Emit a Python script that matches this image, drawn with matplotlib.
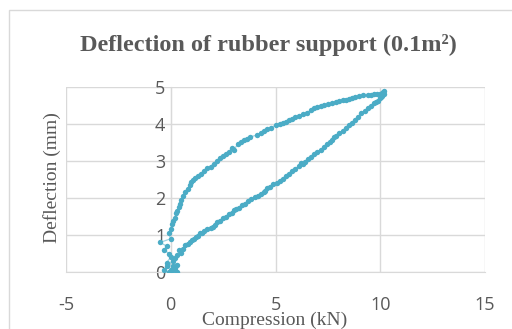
import matplotlib
matplotlib.use('Agg')
import matplotlib.pyplot as plt
from matplotlib.patches import Rectangle

plt.rcParams['axes.unicode_minus'] = False

# loading branch (lower curve)
load_x = [0.0, 0.2, -0.2, 0.3, 0.1, -0.3, 0.2, 0.3, 0.5, 0.4, 0.6, 0.7, 0.8, 0.9, 1.0,
          1.1, 1.2, 1.3, 1.4, 1.5, 1.6, 1.75, 1.9, 2.0, 2.1, 2.2, 2.35, 2.5, 2.65, 2.8,
          2.9, 3.0, 3.1, 3.25, 3.4, 3.55, 3.7, 3.85, 4.0, 4.15, 4.3, 4.45, 4.5, 4.6,
          4.75, 4.9, 5.05, 5.2, 5.35, 5.5, 5.65, 5.8, 5.95, 6.1, 6.2, 6.3, 6.4, 6.55,
          6.7, 6.85, 7.0, 7.15, 7.3, 7.45, 7.6, 7.7, 7.8, 7.9, 8.05, 8.2, 8.35, 8.5,
          8.65, 8.8, 8.95, 9.1, 9.25, 9.4, 9.55, 9.7, 9.8, 9.9, 10.0, 10.05, 10.1, 10.2]
load_y = [0.0, 0.05, 0.15, 0.2, 0.3, 0.05, 0.38, 0.45, 0.52, 0.6, 0.62, 0.72, 0.75, 0.8, 0.86,
          0.9, 0.95, 0.98, 1.05, 1.06, 1.1, 1.15, 1.2, 1.22, 1.28, 1.35, 1.38, 1.45, 1.5, 1.58,
          1.6, 1.68, 1.7, 1.74, 1.8, 1.85, 1.92, 1.96, 2.02, 2.06, 2.12, 2.16, 2.2, 2.26,
          2.3, 2.37, 2.4, 2.47, 2.52, 2.6, 2.65, 2.72, 2.78, 2.86, 2.95, 2.93, 2.98, 3.05,
          3.12, 3.18, 3.25, 3.3, 3.37, 3.45, 3.52, 3.58, 3.65, 3.68, 3.75, 3.82, 3.9, 3.97,
          4.04, 4.12, 4.2, 4.3, 4.34, 4.42, 4.48, 4.56, 4.6, 4.62, 4.7, 4.72, 4.75, 4.8]

# unloading branch (upper curve)
unload_x = [10.2, 10.15, 10.1, 10.0, 9.85, 9.7, 9.55, 9.4, 9.2, 9.0, 8.8, 8.65, 8.5, 8.35,
            8.2, 8.05, 7.9, 7.7, 7.5, 7.3, 7.15, 7.0, 6.85, 6.7, 6.5, 6.3, 6.1, 5.95, 5.8,
            5.65, 5.5, 5.35, 5.2, 5.0, 4.8, 4.6, 4.45, 4.3, 4.1, 3.8, 3.65, 3.5, 3.35, 3.2,
            3.0, 2.9, 2.8, 2.65, 2.5, 2.35, 2.2, 2.05, 1.9, 1.75, 1.6, 1.45, 1.3, 1.15, 1.05,
            0.95, 0.9, 0.8, 0.7, 0.6, 0.5, 0.45, 0.4, 0.3, 0.25, 0.2, 0.1, 0.05, 0.0, -0.1,
            0.0, -0.5, -0.2, -0.3, -0.1, 0.0, -0.2, 0.1, 0.0, 0.3, -0.1, 0.2]
unload_y = [4.9, 4.86, 4.85, 4.82, 4.8, 4.8, 4.79, 4.78, 4.78, 4.75, 4.72, 4.7, 4.68, 4.66,
            4.65, 4.62, 4.6, 4.57, 4.53, 4.5, 4.48, 4.45, 4.42, 4.38, 4.3, 4.27, 4.22, 4.18, 4.14,
            4.1, 4.06, 4.03, 4.0, 3.97, 3.9, 3.86, 3.8, 3.76, 3.7, 3.65, 3.6, 3.56, 3.5, 3.45,
            3.3, 3.35, 3.25, 3.2, 3.14, 3.08, 3.0, 2.93, 2.85, 2.8, 2.72, 2.66, 2.6, 2.55, 2.5,
            2.42, 2.35, 2.25, 2.15, 2.05, 1.95, 1.85, 1.75, 1.65, 1.6, 1.45, 1.38, 1.3, 1.15, 1.05,
            0.9, 0.8, 0.7, 0.6, 0.5, 0.4, 0.25, 0.15, 0.05, 0.0, 0.0, 0.1]

x_ticks = [-5, 0, 5, 10, 15]
y_ticks = [0, 1, 2, 3, 4, 5]

fig = plt.figure(figsize=(5.12, 3.29), dpi=100)
fig.patch.set_facecolor('white')
ax = fig.add_axes([66 / 512, 1 - 272 / 329, (485 - 66) / 512, (272 - 87) / 329])

c = '#4BACC6'
ax.plot(load_x + unload_x, load_y + unload_y, '-', color='#9fd3e0', lw=0.9, zorder=2)
ax.plot(load_x + unload_x, load_y + unload_y, 'o', color=c, ms=3.9, mew=0, zorder=3)

ax.set_xlim(-5, 15)
ax.set_ylim(0, 5)
ax.set_xticks(x_ticks)
ax.set_yticks(y_ticks)
ax.grid(True, color='#d9d9d9', lw=1.0, zorder=0)
ax.set_axisbelow(True)
for s in ['top', 'right']:
    ax.spines[s].set_visible(False)
ax.spines['left'].set_position(('data', 0))
ax.spines['left'].set_color('#d9d9d9')
ax.spines['bottom'].set_color('#d9d9d9')
ax.tick_params(length=0, labelsize=13, labelcolor='#595959')
ax.tick_params(axis='x', pad=17)
ax.tick_params(axis='y', pad=4)
for lab in ax.get_xticklabels() + ax.get_yticklabels():
    lab.set_fontfamily('Open Sans')

fig.text(268 / 512, 1 - 45 / 329, 'Deflection of rubber support (0.1m²)', ha='center', va='center',
         fontsize=17.5, fontweight='bold', family='Liberation Serif', color='#595959')
fig.text(275 / 512, 1 - 320 / 329, 'Compression (kN)', ha='center', va='center',
         fontsize=14, family='Liberation Serif', color='#595959')
fig.text(52 / 512, 1 - 178 / 329, 'Deflection (mm)', ha='center', va='center', rotation=90,
         fontsize=14, family='Liberation Serif', color='#595959')

fig.patches.append(Rectangle((9 / 512, -0.1), 2, 1 - 10 / 329 + 0.1, transform=fig.transFigure,
                             fill=False, edgecolor='#d9d9d9', lw=1.0))

fig.savefig('out.png', dpi=100)
